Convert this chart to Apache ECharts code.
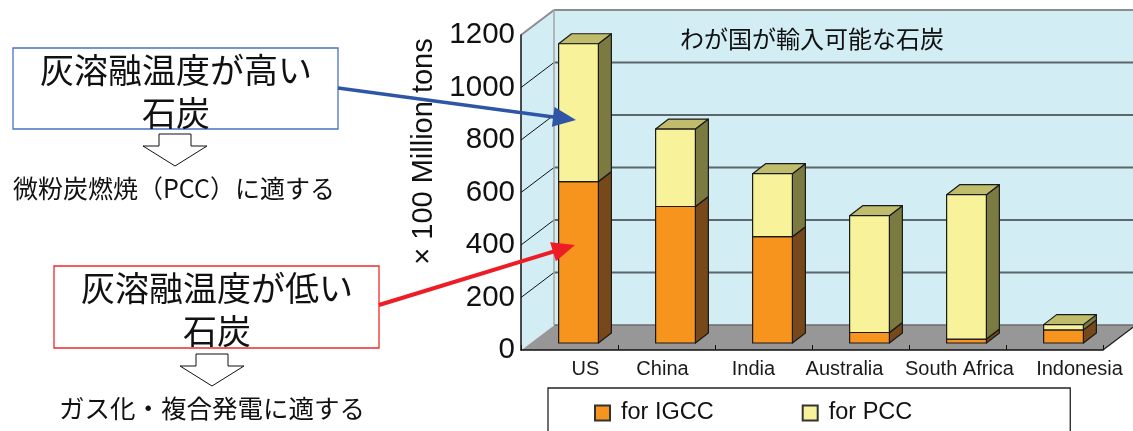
<!DOCTYPE html>
<html>
<head>
<meta charset="utf-8">
<script src="https://cdn.jsdelivr.net/npm/echarts@6/dist/echarts.min.js"></script>
<style>
  html, body { margin: 0; padding: 0; background: #fff; }
  #chart { width: 1133px; height: 431px; }
</style>
</head>
<body>
<div id="chart"></div>
<script>
// Importable coal by country (×100 million tons)
const CATEGORIES = ['US', 'China', 'India', 'Australia', 'South Africa', 'Indonesia'];
const IGCC = [615, 520, 405, 40, 15, 50];
const PCC = [525, 295, 240, 445, 550, 20];
const Y_TICKS = [0, 200, 400, 600, 800, 1000, 1200];
const SERIES_NAMES = ['for IGCC', 'for PCC'];

// 3D box layout (pixels)
const WALL_DX = 33, WALL_DY = -25;   // depth of floor / back wall
const BAR_DX = 9, BAR_DY = -7;       // front face of bars sits slightly behind the axis plane
const SIDE_DX = 13, SIDE_DY = -10;   // bar depth
const BAR_RATIO = 0.41;
const LABEL_SHIFT = [16, -4, -10, -16, 2, 25];

const COLORS = {
  igcc: { front: '#f7941e', side: '#774819', top: '#a8722e' },
  pcc:  { front: '#f8f39b', side: '#7b7a41', top: '#bfbc6c' },
  wall: '#d2edf3', floor: '#979797', grid: '#5b676c', edge: '#1a1a1a'
};

const JP = "'Noto Sans CJK JP', sans-serif";
const LATIN = "'Liberation Sans', Arial, sans-serif";

const chart = echarts.init(document.getElementById('chart'), null, { renderer: 'canvas' });

function renderBackdrop(params, api) {
  const cs = params.coordSys;
  const x0 = cs.x, x1 = cs.x + cs.width;
  const yTop = cs.y, yBot = cs.y + cs.height;
  const children = [];
  // back wall
  children.push({ type: 'rect', shape: { x: x0 + WALL_DX, y: yTop + WALL_DY, width: cs.width + 10, height: cs.height },
    style: { fill: COLORS.wall } });
  // side wall
  children.push({ type: 'polygon', shape: { points: [[x0, yBot], [x0 + WALL_DX, yBot + WALL_DY], [x0 + WALL_DX, yTop + WALL_DY], [x0, yTop]] },
    style: { fill: COLORS.wall } });
  // floor
  children.push({ type: 'polygon', shape: { points: [[x0, yBot], [x1, yBot], [x1 + WALL_DX, yBot + WALL_DY], [x0 + WALL_DX, yBot + WALL_DY]] },
    style: { fill: COLORS.floor } });
  // floor right edge
  children.push({ type: 'line', shape: { x1: x1, y1: yBot, x2: x1 + WALL_DX, y2: yBot + WALL_DY },
    style: { stroke: COLORS.edge, lineWidth: 1.2 } });
  // back floor edge
  children.push({ type: 'line', shape: { x1: x0 + WALL_DX, y1: yBot + WALL_DY, x2: x1 + WALL_DX, y2: yBot + WALL_DY },
    style: { stroke: '#6d6d6d', lineWidth: 1.5 } });
  // gridlines on the back wall and on the side wall
  Y_TICKS.forEach(function (v) {
    if (v === 0) return;
    const y = api.coord([0, v])[1];
    const top = v === Y_TICKS[Y_TICKS.length - 1];
    children.push({ type: 'line', shape: { x1: x0 + WALL_DX, y1: y + WALL_DY, x2: x1 + WALL_DX + 10, y2: y + WALL_DY },
      style: { stroke: top ? '#8c8c8c' : COLORS.grid, lineWidth: 2 } });
    children.push({ type: 'line', shape: { x1: x0, y1: y, x2: x0 + WALL_DX, y2: y + WALL_DY },
      style: { stroke: top ? '#8c8c8c' : '#111', lineWidth: top ? 2 : 1 } });
  });
  // back wall left edge
  children.push({ type: 'line', shape: { x1: x0 + WALL_DX, y1: yTop + WALL_DY, x2: x0 + WALL_DX, y2: yBot + WALL_DY },
    style: { stroke: '#a4a4a4', lineWidth: 1.5 } });
  children.push({ type: 'line', shape: { x1: x0, y1: yBot, x2: x0 + WALL_DX, y2: yBot + WALL_DY },
    style: { stroke: '#e4e4e4', lineWidth: 1 } });
  return { type: 'group', children: children };
}

function makeBarRenderer(pal) {
  return function (params, api) {
    const i = api.value(0), lo = api.value(1), hi = api.value(2);
    const pLo = api.coord([i, lo]);
    const pHi = api.coord([i, hi]);
    const w = api.size([1, 0])[0] * BAR_RATIO;
    const cx = pLo[0] + BAR_DX;
    const xa = cx - w / 2, xb = cx + w / 2;
    const yb = pLo[1] + BAR_DY, yt = pHi[1] + BAR_DY;
    const stroke = { stroke: COLORS.edge, lineWidth: 1.2, lineJoin: 'round' };
    return {
      type: 'group',
      children: [
        { type: 'polygon', shape: { points: [[xb, yt], [xb + SIDE_DX, yt + SIDE_DY], [xb + SIDE_DX, yb + SIDE_DY], [xb, yb]] },
          style: Object.assign({ fill: pal.side }, stroke) },
        { type: 'polygon', shape: { points: [[xa, yt], [xb, yt], [xb + SIDE_DX, yt + SIDE_DY], [xa + SIDE_DX, yt + SIDE_DY]] },
          style: Object.assign({ fill: pal.top }, stroke) },
        { type: 'rect', shape: { x: xa, y: yt, width: w, height: yb - yt },
          style: Object.assign({ fill: pal.front }, stroke) }
      ]
    };
  };
}

const igccData = CATEGORIES.map(function (c, i) { return [i, 0, IGCC[i]]; });
const pccData = CATEGORIES.map(function (c, i) { return [i, IGCC[i], IGCC[i] + PCC[i]]; });

// arrow pointing from a callout box toward a bar
function calloutArrow(from, to, color, width) {
  const ang = Math.atan2(to[1] - from[1], to[0] - from[0]);
  const len = 23, half = 10;
  const bx = to[0] - len * Math.cos(ang), by = to[1] - len * Math.sin(ang);
  const nx = -Math.sin(ang), ny = Math.cos(ang);
  return [
    { type: 'line', shape: { x1: from[0], y1: from[1], x2: bx + 2 * Math.cos(ang), y2: by + 2 * Math.sin(ang) },
      style: { stroke: color, lineWidth: width }, z: 20 },
    { type: 'polygon', shape: { points: [to, [bx + half * nx, by + half * ny], [bx - half * nx, by - half * ny]] },
      style: { fill: color }, z: 20 }
  ];
}

function hollowArrow(cx, top, shaftHalf, headY, headHalf, tipY) {
  return { type: 'polygon', z: 20,
    shape: { points: [[cx - shaftHalf, top], [cx + shaftHalf, top], [cx + shaftHalf, headY], [cx + headHalf, headY],
      [cx, tipY], [cx - headHalf, headY], [cx - shaftHalf, headY]] },
    style: { fill: '#fff', stroke: '#111', lineWidth: 1 } };
}

function label(text, x, y, size) {
  return { type: 'text', z: 21, style: { text: text, x: x, y: y, align: 'center', verticalAlign: 'middle',
    fill: '#111', font: size + 'px ' + JP } };
}

const option = {
  animation: false,
  backgroundColor: '#fff',
  title: {
    text: 'わが国が輸入可能な石炭',
    left: 680, top: 27, padding: 0,
    textStyle: { fontFamily: JP, fontSize: 24, fontWeight: 'normal', color: '#111' }
  },
  legend: {
    data: SERIES_NAMES,
    left: 548, top: 388,
    orient: 'horizontal',
    padding: [13, 158, 40, 46],
    itemGap: 88,
    itemWidth: 15, itemHeight: 15,
    icon: 'rect',
    borderColor: '#222', borderWidth: 1.3,
    textStyle: { fontFamily: LATIN, fontSize: 23.5, color: '#111', padding: [0, 0, 0, 6] }
  },
  grid: { left: 521, right: 30, top: 35, bottom: 81, containLabel: false },
  xAxis: {
    type: 'category',
    data: CATEGORIES.map(function (c, i) {
      const s = LABEL_SHIFT[i];
      return { value: c, textStyle: { padding: s >= 0 ? [0, 0, 0, 2 * s] : [0, -2 * s, 0, 0] } };
    }),
    boundaryGap: true,
    z: 10,
    axisLine: { lineStyle: { color: '#111', width: 1.5 } },
    axisTick: { show: true, inside: true, length: 5, lineStyle: { color: '#111' } },
    axisLabel: { margin: 9, fontFamily: LATIN, fontSize: 20, color: '#1a1a1a', interval: 0 },
    splitLine: { show: false }
  },
  yAxis: {
    type: 'value',
    min: 0, max: 1200, interval: 200,
    z: 10,
    name: '× 100 Million tons',
    nameLocation: 'middle',
    nameRotate: 90,
    nameGap: 82,
    nameTextStyle: { fontFamily: LATIN, fontSize: 29, color: '#111', padding: [0, 0, 0, 82] },
    axisLine: { show: true, lineStyle: { color: '#111', width: 1.5 } },
    axisTick: { show: false },
    axisLabel: { margin: 6, fontFamily: LATIN, fontSize: 29.5, color: '#111',
      formatter: function (v) { return String(v); } },
    splitLine: { show: false }
  },
  series: [
    { type: 'custom', name: 'backdrop', z: 1, silent: true, data: [[0, 0, 0]], renderItem: renderBackdrop,
      legendHoverLink: false },
    { type: 'custom', name: SERIES_NAMES[0], z: 2, data: igccData, renderItem: makeBarRenderer(COLORS.igcc),
      itemStyle: { color: COLORS.igcc.front, borderColor: '#333', borderWidth: 1 } },
    { type: 'custom', name: SERIES_NAMES[1], z: 2, data: pccData, renderItem: makeBarRenderer(COLORS.pcc),
      itemStyle: { color: COLORS.pcc.front, borderColor: '#333', borderWidth: 1 } }
  ],
  graphic: [].concat(
    [
      { type: 'rect', z: 20, shape: { x: 13, y: 48, width: 325, height: 81 },
        style: { fill: '#fff', stroke: '#4a72c0', lineWidth: 1.3 } },
      label('灰溶融温度が高い', 176, 70, 34),
      label('石炭', 176, 113, 34),
      hollowArrow(175, 134, 16, 146, 32, 166),
      label('微粉炭燃焼（PCC）に適する', 174, 188, 25),
      { type: 'rect', z: 20, shape: { x: 54, y: 266, width: 325, height: 82 },
        style: { fill: '#fff', stroke: '#ee2a2a', lineWidth: 1.3 } },
      label('灰溶融温度が低い', 217, 288, 34),
      label('石炭', 217, 331, 34),
      hollowArrow(212, 354, 16, 366, 32, 386),
      label('ガス化・複合発電に適する', 212, 408, 25.5)
    ],
    calloutArrow([338, 88], [576, 120], '#2f56a6', 3.5),
    calloutArrow([379, 305], [575, 245], '#ee1c25', 4)
  )
};

chart.setOption(option);
</script>
</body>
</html>
